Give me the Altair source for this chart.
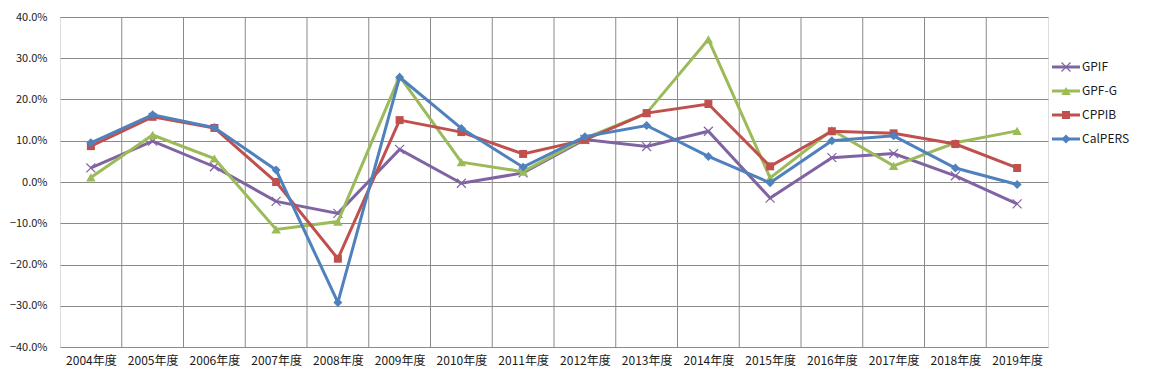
import json
import altair as alt
import pandas as pd

years = ['2004年度', '2005年度', '2006年度', '2007年度', '2008年度', '2009年度', '2010年度', '2011年度',
         '2012年度', '2013年度', '2014年度', '2015年度', '2016年度', '2017年度', '2018年度', '2019年度']
series = ['GPIF', 'GPF-G', 'CPPIB', 'CalPERS']
gpif = [3.4, 9.9, 3.7, -4.7, -7.6, 7.9, -0.3, 2.2, 10.3, 8.6, 12.3, -3.9, 5.9, 6.9, 1.5, -5.3]
gpfg = [1.1, 11.4, 5.7, -11.5, -9.6, 25.6, 4.8, 2.5, 10.6, 16.7, 34.6, 1.0, 12.6, 3.9, 9.5, 12.4]
cppib = [8.7, 15.8, 13.1, 0.0, -18.6, 15.0, 12.1, 6.8, 10.2, 16.7, 18.9, 3.8, 12.3, 11.8, 9.2, 3.4]
calpers = [9.5, 16.3, 13.2, 2.9, -29.2, 25.4, 13.0, 3.6, 11.0, 13.7, 6.2, -0.2, 10.0, 11.2, 3.4, -0.6]
y_ticks = [-0.4, -0.3, -0.2, -0.1, 0.0, 0.1, 0.2, 0.3, 0.4]

colors = ['#8064A2', '#9BBB59', '#C0504D', '#4F81BD']
xpath = 'M-1,-1L1,1M-1,1L1,-1'
shapes = [xpath, 'triangle-up', 'square', 'diamond']
sizes = [80, 90, 64, 80]

rows = []
for name, vals in zip(series, [gpif, gpfg, cppib, calpers]):
    for i, v in enumerate(vals):
        rows.append({'series': name, 'idx': i, 'year': years[i], 'value': v / 100.0})
df = pd.DataFrame(rows)

FONT = 'Noto Sans CJK JP'
label_expr = json.dumps(years, ensure_ascii=False) + '[datum.value]'

xenc = alt.X('idx:Q',
             scale=alt.Scale(domain=[-0.5, len(years) - 0.5], nice=False, zero=False),
             axis=alt.Axis(values=list(range(len(years))), labelExpr=label_expr, grid=False,
                           ticks=False, domain=False, title=None, labelFontSize=12,
                           labelPadding=8, labelOverlap=False, labelFlush=False,
                           labelColor='#1a1a1a', labelFont=FONT))
yenc = alt.Y('value:Q',
             scale=alt.Scale(domain=[-0.4, 0.4], nice=False),
             axis=alt.Axis(values=y_ticks, format='.1%', grid=True, gridColor='#8a8a8a',
                           gridOpacity=1, ticks=False, domain=False, title=None,
                           labelFontSize=11, labelPadding=13, labelColor='#1a1a1a',
                           labelFont=FONT))

base = alt.Chart(df)

grid_df = pd.DataFrame({'b': [i + 0.5 for i in range(len(years) - 1)]})
vgrid = alt.Chart(grid_df).mark_rule(color='#8a8a8a', strokeWidth=1).encode(x='b:Q')

layers = [vgrid]
for name, col, shp, sz in zip(series, colors, shapes, sizes):
    sub = base.transform_filter(alt.datum.series == name)
    layers.append(sub.mark_line(color=col, strokeWidth=3).encode(x=xenc, y=yenc))
    if shp == xpath:
        pt = sub.mark_point(shape=shp, filled=False, color=col, strokeWidth=1.2, size=sz, opacity=1)
    else:
        pt = sub.mark_point(shape=shp, filled=True, color=col, size=sz, opacity=1)
    layers.append(pt.encode(x=xenc, y=yenc))

main = alt.layer(*layers)

leg_df = pd.DataFrame({'series': series})
ly = alt.Y('series:N', scale=alt.Scale(type='point', domain=series, range=[50, 122], padding=0), axis=None)
leg_layers = []
for name, col, shp, sz in zip(series, colors, shapes, sizes):
    sub = alt.Chart(leg_df).transform_filter(alt.datum.series == name)
    leg_layers.append(sub.mark_rule(color=col, strokeWidth=3).encode(
        x=alt.value(992), x2=alt.value(1020), y=ly))
    if shp == xpath:
        pt = sub.mark_point(shape=shp, filled=False, color=col, strokeWidth=1.2, size=sz, opacity=1)
    else:
        pt = sub.mark_point(shape=shp, filled=True, color=col, size=sz, opacity=1)
    leg_layers.append(pt.encode(x=alt.value(1006), y=ly))
    leg_layers.append(sub.mark_text(align='left', baseline='middle', fontSize=12, font=FONT,
                                    color='#1a1a1a').encode(x=alt.value(1022), y=ly, text='series:N'))
legend = alt.layer(*leg_layers)

chart = alt.layer(main, legend).resolve_scale(y='independent').properties(
    width=988, height=330, padding={'left': 1, 'top': 3, 'right': 5, 'bottom': 0}
).configure_view(stroke='black', strokeWidth=1).configure(font=FONT)

chart.save('out.html', embed_options={'renderer': 'svg', 'actions': False})
